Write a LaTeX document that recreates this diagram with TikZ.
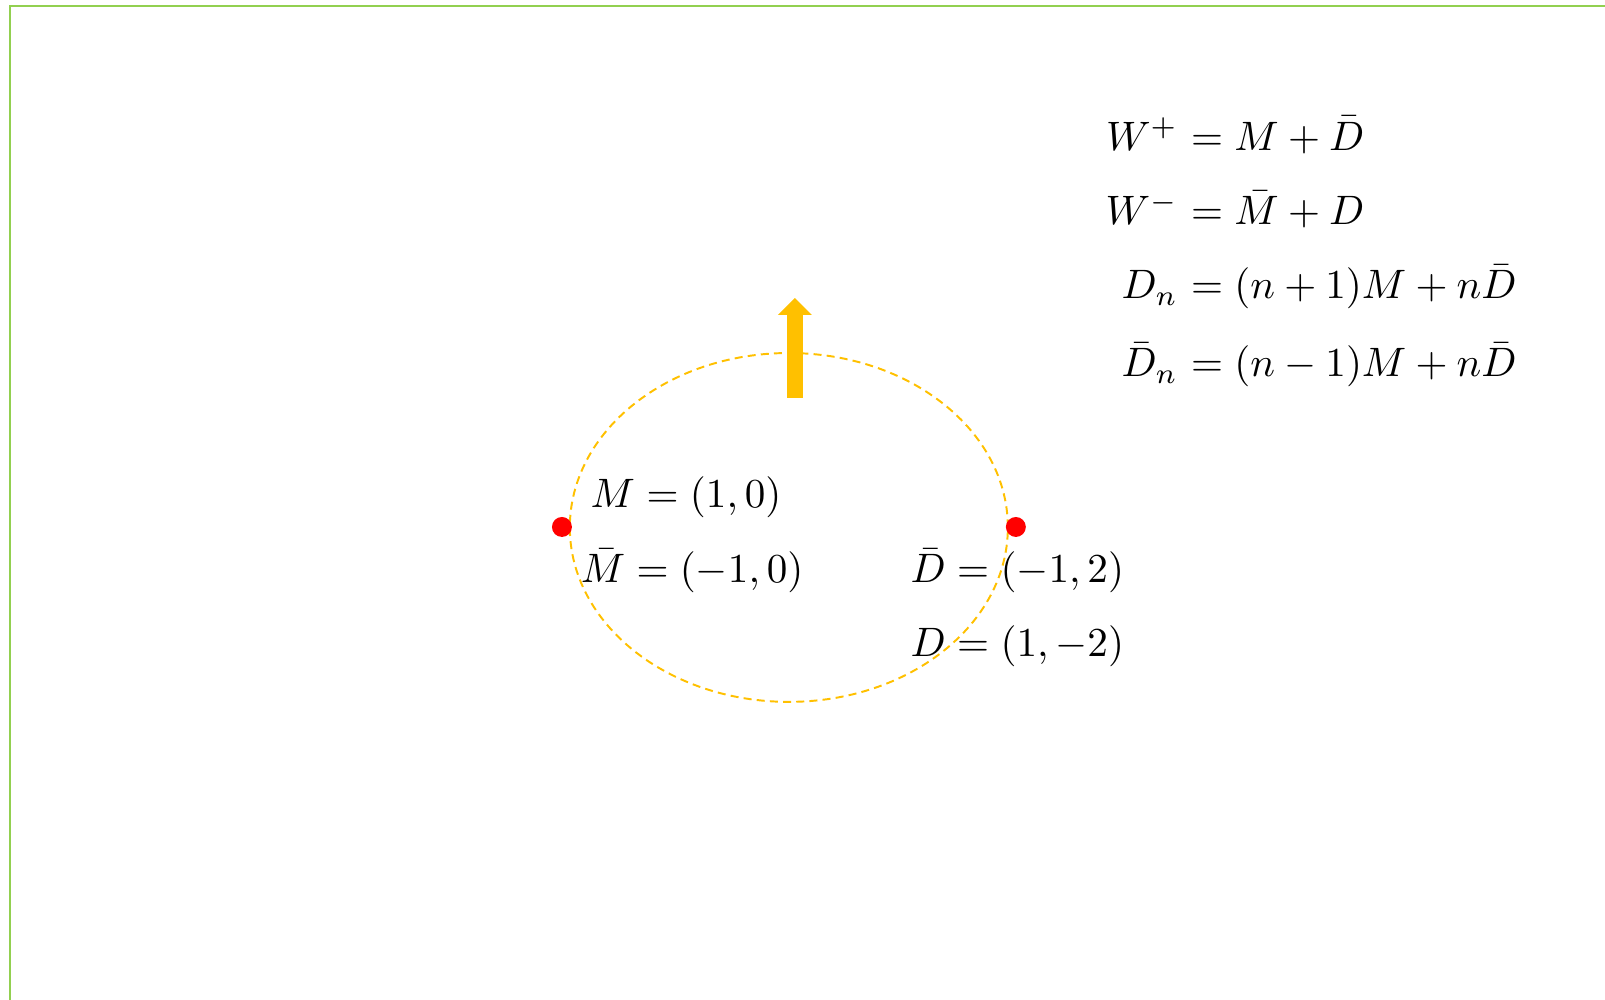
\documentclass[tikz,border=0pt]{standalone}
\usepackage{xcolor}
\usepackage{tikz}
\usepackage{amsmath}
\usepackage{amssymb}
\usetikzlibrary{arrows.meta, positioning}

\definecolor{framegreen}{HTML}{92D050}
\definecolor{orbitgold}{HTML}{FFC000}

\begin{document}
\begin{tikzpicture}[
        pnode/.style = {circle, fill=red, minimum size=1.62mm, inner sep=0pt},
        lbl/.style = {inner sep=0pt, anchor=base west, scale=0.95, transform shape},
        lhs/.style = {inner sep=0pt, anchor=base east, scale=0.95, transform shape},
        orbit/.style = {draw=orbitgold, line width=0.45pt, dash pattern=on 1.85pt off 1.2pt},
        lift/.style = {draw=orbitgold, line width=3.7pt, -{Triangle[width=7.6pt, length=3.9pt]}}
    ]

    \useasboundingbox (0,0) rectangle (13.03,8.117);
    \clip (0,0) rectangle (13.03,8.117);

    % frame
    \draw[framegreen, line width=0.5pt] (0.081,-1) rectangle (14,8.068);

    % orbit with the two points
    \coordinate (O) at (6.404,3.835);
    \draw[orbit] (O) ellipse [x radius=1.778, y radius=1.416];

    \node [pnode] (Mdot) at (4.562,3.839) {};
    \node [pnode] (Ddot) at (8.247,3.839) {};

    \coordinate (liftbase) at (6.453,4.886);
    \coordinate (lifttip) at (6.453,5.698);
    \draw[lift] (liftbase) -- (lifttip);

    % point labels
    \node [lbl] (Mlbl) at (4.789,3.994) {$M = (1,0)$};
    \node [lbl] (Mbarlbl) at (4.708,3.385) {$\bar{M} = (-1,0)$};
    \node [lbl] (Dbarlbl) at (7.386,3.385) {$\bar{D} = (-1,2)$};
    \node [lbl] (Dlbl) at (7.386,2.784) {$D = (1,-2)$};

    % relations
    \node [lhs] (Wpl) at (9.570,6.899) {$W^+$};
    \node [lbl] (Wpr) at (9.570,6.899) {${}= M + \bar{D}$};
    \node [lhs] (Wml) at (9.570,6.291) {$W^-$};
    \node [lbl] (Wmr) at (9.570,6.291) {${}= \bar{M} + D$};
    \node [lhs] (Dnl) at (9.570,5.690) {$D_n$};
    \node [lbl] (Dnr) at (9.570,5.690) {${}= (n+1)M + n\bar{D}$};
    \node [lhs] (Dbnl) at (9.570,5.057) {$\bar{D}_n$};
    \node [lbl] (Dbnr) at (9.570,5.057) {${}= (n-1)M + n\bar{D}$};

\end{tikzpicture}
\end{document}
